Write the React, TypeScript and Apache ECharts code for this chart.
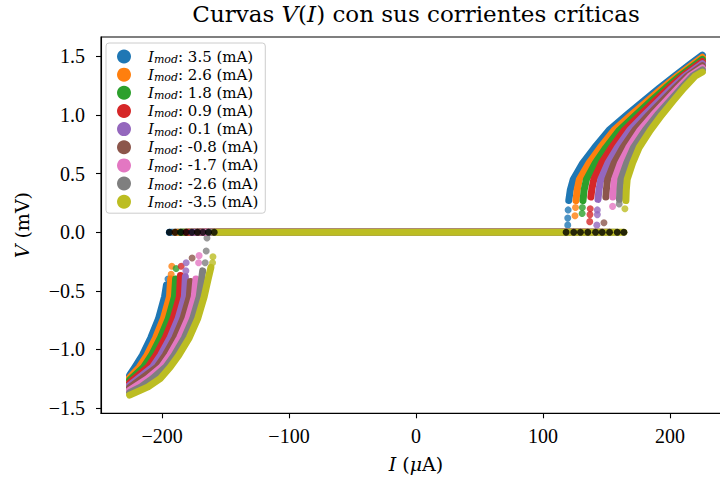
import React, { useEffect, useRef } from "react";
import * as echarts from "echarts";

// ---- data ----
const modLabels = ["3.5", "2.6", "1.8", "0.9", "0.1", "-0.8", "-1.7", "-2.6", "-3.5"];
const colors = ["#1f77b4", "#ff7f0e", "#2ca02c", "#d62728", "#9467bd", "#8c564b", "#e377c2", "#7f7f7f", "#bcbd22"];

// critical currents (µA)
const icPos = [118.2, 124.2, 129.5, 135.3, 141.4, 146.6, 152.4, 158.5, 163.7];
const icNeg = [-194.2, -189.7, -185.2, -181.0, -176.5, -172.1, -167.8, -163.4, -158.9];

// resistive branch, positive current [I, V]
const posBlue = [[120.3, 0.27], [121.5, 0.36], [123.8, 0.45], [131.3, 0.59], [140.5, 0.72], [152.0, 0.87], [166.0, 1.0], [179.3, 1.12], [191.7, 1.23], [203.5, 1.33], [215.5, 1.43], [225.5, 1.51]];
const posOrange = [[126.0, 0.27], [126.9, 0.36], [128.6, 0.45], [136.2, 0.59], [145.0, 0.72], [156.0, 0.87], [169.5, 1.0], [182.3, 1.12], [194.2, 1.23], [205.6, 1.33], [217.8, 1.43], [225.5, 1.492]];
const posGreen = [[131.5, 0.27], [132.4, 0.36], [134.2, 0.45], [141.2, 0.59], [149.4, 0.72], [160.1, 0.87], [173.0, 1.0], [185.2, 1.12], [196.6, 1.23], [207.6, 1.33], [220.0, 1.43], [225.5, 1.474]];
const posRed = [[137.7, 0.3], [138.5, 0.37], [140.0, 0.45], [146.1, 0.59], [153.9, 0.72], [164.1, 0.87], [176.4, 1.0], [188.2, 1.12], [199.1, 1.23], [209.6, 1.33], [222.3, 1.43], [225.5, 1.456]];
const posPurple = [[143.3, 0.28], [144.1, 0.36], [145.5, 0.45], [151.1, 0.59], [158.4, 0.72], [168.2, 0.87], [179.9, 1.0], [191.1, 1.12], [201.5, 1.23], [211.6, 1.33], [224.5, 1.43], [225.5, 1.438]];
const posBrown = [[149.5, 0.3], [150.0, 0.37], [150.9, 0.45], [156.0, 0.59], [162.8, 0.72], [172.3, 0.87], [183.3, 1.0], [194.1, 1.12], [204.0, 1.23], [213.6, 1.33], [225.5, 1.42]];
const posPink = [[155.0, 0.3], [155.5, 0.37], [156.3, 0.45], [161.0, 0.59], [167.3, 0.72], [176.4, 0.87], [186.7, 1.0], [197.0, 1.12], [206.5, 1.23], [215.6, 1.33], [225.5, 1.402]];
const posGray = [[160.2, 0.28], [160.6, 0.36], [161.3, 0.45], [165.9, 0.59], [171.2, 0.72], [180.5, 0.87], [190.1, 1.0], [200.0, 1.12], [209.0, 1.23], [217.6, 1.33], [225.5, 1.384]];
const posOlive = [[165.3, 0.27], [165.6, 0.36], [166.3, 0.45], [170.6, 0.59], [175.6, 0.72], [184.6, 0.87], [193.5, 1.0], [202.5, 1.12], [211.0, 1.23], [219.6, 1.33], [225.5, 1.366]];

// resistive branch, negative current [I, V]
const negBlue = [[-196.5, -0.45], [-198.0, -0.55], [-202.8, -0.74], [-208.8, -0.9], [-215.5, -1.05], [-221.3, -1.15], [-225.5, -1.22]];
const negOrange = [[-193.2, -0.4], [-194.1, -0.55], [-199.0, -0.74], [-205.0, -0.9], [-211.9, -1.05], [-217.8, -1.15], [-225.5, -1.241]];
const negGreen = [[-189.3, -0.4], [-190.2, -0.55], [-195.1, -0.74], [-201.2, -0.9], [-208.3, -1.05], [-214.4, -1.15], [-225.5, -1.262]];
const negRed = [[-185.5, -0.37], [-186.3, -0.55], [-191.3, -0.74], [-197.4, -0.9], [-204.7, -1.05], [-210.9, -1.15], [-225.5, -1.284]];
const negPurple = [[-181.6, -0.38], [-182.4, -0.55], [-187.4, -0.74], [-193.6, -0.9], [-201.1, -1.05], [-207.4, -1.15], [-225.5, -1.305]];
const negBrown = [[-177.6, -0.42], [-178.5, -0.55], [-183.6, -0.74], [-189.8, -0.9], [-197.5, -1.05], [-203.9, -1.15], [-225.5, -1.326]];
const negPink = [[-173.3, -0.4], [-174.6, -0.55], [-179.7, -0.74], [-186.1, -0.9], [-193.9, -1.05], [-200.4, -1.15], [-211.5, -1.25], [-225.5, -1.347]];
const negGray = [[-168.0, -0.33], [-170.7, -0.55], [-175.9, -0.74], [-182.3, -0.9], [-190.4, -1.05], [-197.0, -1.15], [-207.5, -1.25], [-216.5, -1.32], [-225.5, -1.369]];
const negOlive = [[-161.5, -0.3], [-163.7, -0.4], [-166.8, -0.55], [-172.0, -0.74], [-178.5, -0.9], [-186.8, -1.05], [-193.5, -1.15], [-201.5, -1.25], [-211.0, -1.32], [-225.5, -1.39]];

// isolated points in the switching jumps [I, V]
const jumpBlue = [[119.5, 0.06], [119.5, 0.12], [119.8, 0.19], [-195.3, -0.4]];
const jumpOrange = [[125.2, 0.14], [125.6, 0.21], [-192.3, -0.29], [-192.8, -0.36]];
const jumpGreen = [[130.8, 0.16], [131.0, 0.21], [-188.9, -0.31]];
const jumpRed = [[136.8, 0.09], [137.0, 0.15], [137.2, 0.2], [-184.9, -0.29]];
const jumpPurple = [[142.4, 0.06], [142.8, 0.15], [142.8, 0.19], [-181.0, -0.26], [-181.2, -0.33]];
const jumpBrown = [[148.0, 0.08], [-176.3, -0.22]];
const jumpPink = [[154.8, 0.22], [-170.8, -0.2], [-171.2, -0.26]];
const jumpGray = [[160.0, 0.24], [-164.6, -0.05], [-165.2, -0.16], [-166.0, -0.26]];
const jumpOlive = [[164.5, 0.2], [-159.9, -0.21], [-160.2, -0.26]];

const xTicks = [-200, -100, 0, 100, 200];
const yTicks = [-1.5, -1.0, -0.5, 0.0, 0.5, 1.0, 1.5];

const posBands = [posBlue, posOrange, posGreen, posRed, posPurple, posBrown, posPink, posGray, posOlive];
const negBands = [negBlue, negOrange, negGreen, negRed, negPurple, negBrown, negPink, negGray, negOlive];
const jumps = [jumpBlue, jumpOrange, jumpGreen, jumpRed, jumpPurple, jumpBrown, jumpPink, jumpGray, jumpOlive];

const FONT = "'Liberation Serif', 'DejaVu Serif', serif";
const FONT2 = "'DejaVu Serif', 'Liberation Serif', serif";
const DOT = 7;
const W = 740;

function fmtNum(v: number, dec: number) {
  const s = Math.abs(v).toFixed(dec);
  return v < 0 ? "\u2212" + s : s;
}

export default function App() {
  const ref = useRef<HTMLDivElement>(null);
  useEffect(() => {
    if (!ref.current) return;
    const chart = echarts.init(ref.current, undefined, { renderer: "svg" });
    const names = modLabels.map((m) => `Imod: ${m} (mA)`);
    const series: any[] = [];
    for (let k = 0; k < 9; k++) {
      const common = {
        name: names[k],
        color: colors[k],
        itemStyle: { color: colors[k] },
        animation: false,
        silent: true,
      };
      const lineStyle = { width: DOT, color: colors[k], cap: "round", join: "round" };
      series.push({ ...common, type: "line", data: negBands[k], showSymbol: false, symbol: "none", lineStyle });
      series.push({ ...common, type: "line", data: [[icNeg[k], 0], [icPos[k], 0]], showSymbol: false, symbol: "none", lineStyle });
      series.push({ ...common, type: "line", data: posBands[k], showSymbol: false, symbol: "none", lineStyle });
      series.push({ ...common, type: "scatter", data: jumps[k], symbolSize: DOT });
    }
    series.push({
      name: "Ic",
      type: "scatter",
      data: [...icNeg.map((x) => [x, 0]), ...icPos.map((x) => [x, 0])],
      symbolSize: DOT,
      itemStyle: { color: "#000000" },
      silent: true,
      z: 5,
    });

    chart.setOption({
      animation: false,
      backgroundColor: "#ffffff",
      grid: {
        left: 101,
        right: W - 731,
        top: 37,
        bottom: 482 - 413.3,
        show: true,
        borderColor: "#000",
        borderWidth: 1.1,
        backgroundColor: "transparent",
      },
      xAxis: {
        type: "value",
        min: -248.05,
        max: 248.05,
        name: "{i|I} ({i|\u03bc}A)",
        nameLocation: "middle",
        nameGap: 41,
        nameTextStyle: {
          fontFamily: FONT2,
          fontSize: 19,
          color: "#000",
          rich: { i: { fontStyle: "italic", fontFamily: FONT2, fontSize: 19 } },
        },
        axisLine: { show: true, onZero: false, lineStyle: { color: "#000", width: 1.1 } },
        axisTick: { show: true, inside: false, length: 5, lineStyle: { color: "#000", width: 1.1 }, customValues: xTicks },
        axisLabel: {
          customValues: xTicks,
          fontFamily: FONT,
          fontSize: 20,
          color: "#000",
          margin: 13,
          formatter: (v: number) => fmtNum(v, 0),
        },
        splitLine: { show: false },
      },
      yAxis: {
        type: "value",
        min: -1.545,
        max: 1.665,
        name: "{i|V} (mV)",
        nameLocation: "middle",
        nameGap: 70,
        nameTextStyle: {
          fontFamily: FONT2,
          fontSize: 19,
          color: "#000",
          rich: { i: { fontStyle: "italic", fontFamily: FONT2, fontSize: 19 } },
        },
        axisLine: { show: true, onZero: false, lineStyle: { color: "#000", width: 1.1 } },
        axisTick: { show: true, inside: false, length: 5, lineStyle: { color: "#000", width: 1.1 }, customValues: yTicks },
        axisLabel: {
          customValues: yTicks,
          fontFamily: FONT,
          fontSize: 20,
          color: "#000",
          margin: 16,
          formatter: (v: number) => fmtNum(v, 1),
        },
        splitLine: { show: false },
      },
      legend: {
        data: names,
        orient: "vertical",
        left: 106,
        top: 43,
        icon: "circle",
        itemWidth: 14,
        itemHeight: 14,
        itemGap: 1.15,
        padding: [5, 7, 3, 11],
        borderColor: "#cccccc",
        borderWidth: 1,
        borderRadius: 3,
        backgroundColor: "rgba(255,255,255,0.8)",
        selectedMode: false,
        formatter: (name: string) => {
          const m = modLabels[names.indexOf(name)];
          return `{sp|}{i|I}{sub|mod}{t|: ${m} (mA)}`;
        },
        textStyle: {
          fontFamily: FONT2,
          fontSize: 15,
          lineHeight: 14,
          color: "#000",
          rich: {
            sp: { width: 12, lineHeight: 14 },
            i: { fontStyle: "italic", fontFamily: FONT2, fontSize: 15, lineHeight: 14, color: "#000" },
            sub: { fontStyle: "italic", fontFamily: FONT2, fontSize: 11, lineHeight: 8, color: "#000", padding: [6, 0, 0, 0] },
            t: { fontFamily: FONT2, fontSize: 15, lineHeight: 14, color: "#000" },
          },
        },
      },
      graphic: [
        {
          type: "text",
          x: 416,
          y: 13.5,
          style: {
            text: "Curvas {i|V}({i|I}) con sus corrientes cr\u00edticas",
            font: `23px ${FONT2}`,
            fill: "#000",
            align: "center",
            verticalAlign: "middle",
            rich: { i: { fontStyle: "italic", fontFamily: FONT2, fontSize: 23, fill: "#000" } },
          },
        },
      ],
      series,
    });
    return () => chart.dispose();
  }, []);
  return <div ref={ref} style={{ position: "fixed", left: 0, top: 0, width: W, height: 482 }} />;
}
